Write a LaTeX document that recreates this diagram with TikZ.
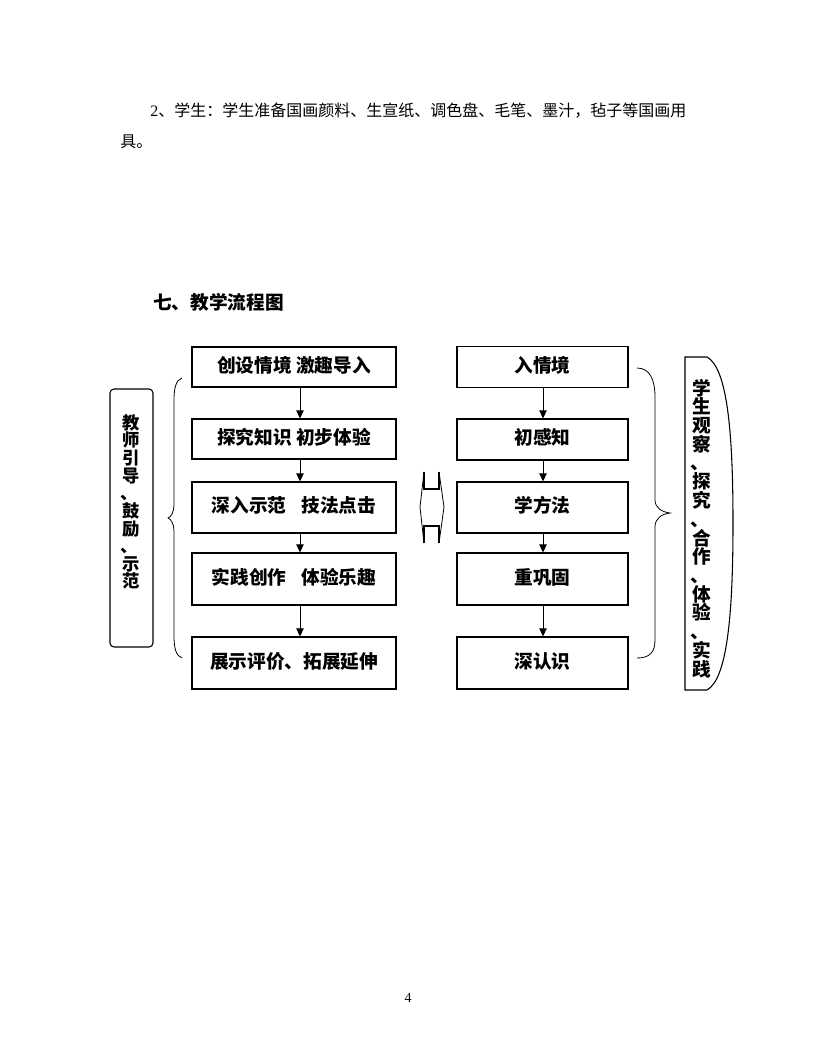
\documentclass[tikz,border=0pt]{standalone}
\usepackage{fontspec}
\setmainfont{Noto Sans CJK SC}
\newfontfamily\lat{Liberation Serif}
\usetikzlibrary{arrows.meta}
\begin{document}
\begin{tikzpicture}[x=0.75pt,y=-0.75pt,
  lbox/.style={draw,line width=0.8pt,minimum width=153pt,inner sep=0pt,text height=0.88em,text depth=0.12em,font=\fontsize{14pt}{16pt}\selectfont\bfseries},
  rbox/.style={lbox,minimum width=128.25pt},
  arr/.style={line width=0.7pt,-{Triangle[length=6pt,width=5.5pt]}},
  vchl/.style={inner sep=0pt,text height=0.88em,text depth=0.12em,font=\fontsize{13pt}{15pt}\selectfont\bfseries},
  vchr/.style={inner sep=0pt,text height=0.88em,text depth=0.12em,font=\fontsize{14pt}{16pt}\selectfont\bfseries},
  dunl/.style={inner sep=0pt,anchor=base west,text height=0.3em,text depth=0pt,font=\fontsize{13pt}{15pt}\selectfont\bfseries},
  dunr/.style={dunl,font=\fontsize{14pt}{16pt}\selectfont\bfseries},
  body/.style={inner sep=0pt,anchor=west,text height=0.88em,text depth=0.12em,font=\fontsize{12pt}{14pt}\selectfont},
  brace/.style={line width=0.6pt},
  sidebox/.style={draw,line width=0.8pt}]
\fill[white] (0,0) rectangle (816,1056);
\useasboundingbox (0,0) rectangle (816,1056);

% body text
\node[body] (t1) at (150,111) {{\lat 2}、学生：学生准备国画颜料、生宣纸、调色盘、毛笔、墨汁，毡子等国画用};
\node[body] (t2) at (120,142) {具。};
\node[body,font=\fontsize{14pt}{16pt}\selectfont\bfseries] (h) at (153,304) {七、教学流程图};

% left column
\node[lbox,minimum height=30pt] (l1) at (294,367) {创设情境 激趣导入};
\node[lbox,minimum height=30pt] (l2) at (294,439) {探究知识 初步体验};
\node[lbox,minimum height=38.25pt] (l3) at (294,507.5) {深入示范\hspace{0.8em}技法点击};
\node[lbox,minimum height=39pt] (l4) at (294,579) {实践创作\hspace{0.8em}体验乐趣};
\node[lbox,minimum height=39pt] (l5) at (294,663) {展示评价、拓展延伸};

% right column
\node[rbox,minimum height=30.75pt] (r1) at (542.5,367) {入情境};
\node[rbox,minimum height=30.75pt] (r2) at (542.5,439.5) {初感知};
\node[rbox,minimum height=38.25pt] (r3) at (542.5,507.5) {学方法};
\node[rbox,minimum height=39pt] (r4) at (542.5,579) {重巩固};
\node[rbox,minimum height=39pt] (r5) at (542.5,663) {深认识};

% arrows
\coordinate (la) at (300,0);
\coordinate (ra) at (543,0);
\draw[arr] (l1.south -| la) -- (l2.north -| la);
\draw[arr] (l2.south -| la) -- (l3.north -| la);
\draw[arr] (l3.south -| la) -- (l4.north -| la);
\draw[arr] (l4.south -| la) -- (l5.north -| la);
\draw[arr] (r1.south -| ra) -- (r2.north -| ra);
\draw[arr] (r2.south -| ra) -- (r3.north -| ra);
\draw[arr] (r3.south -| ra) -- (r4.north -| ra);
\draw[arr] (r4.south -| ra) -- (r5.north -| ra);

% left side box with vertical text
\node[sidebox,rounded corners=3pt,minimum width=32.25pt,minimum height=193.5pt] (tb) at (131.5,518) {};
\foreach \c/\y [count=\i] in {教/424,师/441.6,引/459,导/477,鼓/512,励/530,示/565,范/582}
  \node[vchl] (tc\i) at (131.5,\y) {\c};
\foreach \y [count=\i] in {512,565}
  \node[dunl] (tk\i) at (120.5,\y-13) {\makebox[0.4em][l]{、}};

% left brace
\draw[brace] (182,378) .. controls (176,380) and (174,388) .. (174,400) -- (174,505)
  .. controls (174,512) and (171,517) .. (168,518) .. controls (171,519) and (174,524) .. (174,531)
  -- (174,636) .. controls (174,648) and (176,656) .. (182,658);

% middle double arrow
\draw[line width=0.8pt] (424,472) -- (424,489) -- (439,489) -- (439,472);
\draw[line width=0.8pt] (424,543) -- (424,526) -- (439,526) -- (439,543);
\draw[line width=0.6pt] (424,472) -- (420,507) -- (424,543);
\draw[line width=0.6pt] (439,472) -- (444,507) -- (439,543);

% right brace
\draw[brace] (637,368) .. controls (650,368) and (655,380) .. (655,397) -- (655,500)
  .. controls (655,508) and (662,512) .. (670,513) .. controls (662,514) and (655,518) .. (655,527)
  -- (655,640) .. controls (655,652) and (650,658) .. (637,658);

% right curved box with vertical text
\draw[line width=0.8pt] (685,357) -- (707,357) .. controls (727,368) and (733,430) .. (733,523)
  .. controls (733,616) and (727,679) .. (707,690) -- (685,690) -- cycle;
\foreach \c/\y [count=\i] in {学/390,生/408.7,观/427.5,察/446,探/483.6,究/502,合/540,作/558,体/596,验/614.6,实/652,践/671}
  \node[vchr] (sc\i) at (702,\y) {\c};
\foreach \y [count=\i] in {483.6,540,596,652}
  \node[dunr] (sk\i) at (690,\y-14) {\makebox[0.4em][l]{、}};

% page number
\node[inner sep=0pt,font=\lat\fontsize{10.5pt}{12pt}\selectfont] (pg) at (408,998) {4};
\end{tikzpicture}
\end{document}
